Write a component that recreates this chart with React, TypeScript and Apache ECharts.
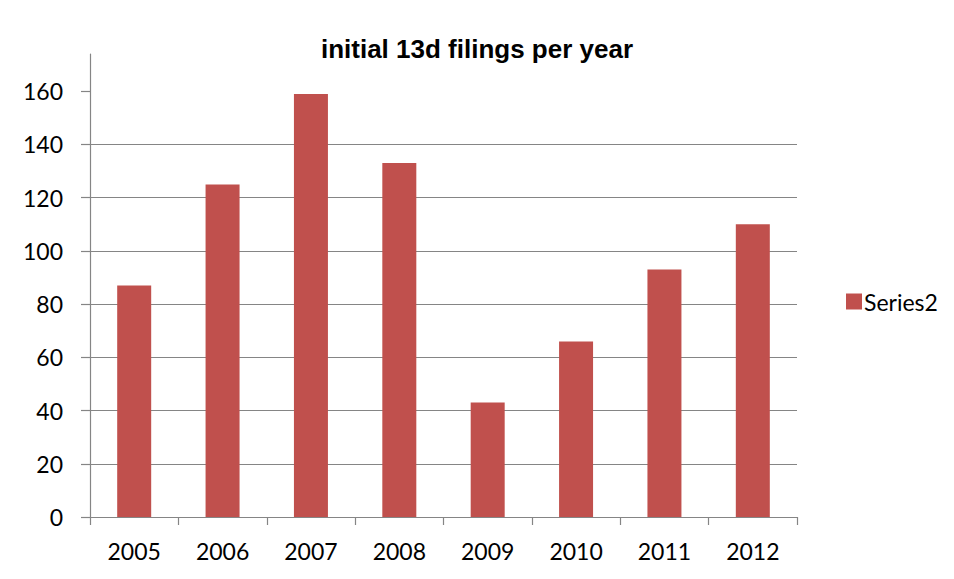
import React, { useEffect, useRef } from "react";
import * as echarts from "echarts";

const categories = ["2005", "2006", "2007", "2008", "2009", "2010", "2011", "2012"];
const series2 = [87, 125, 159, 133, 43, 66, 93, 110];
const yTicks = [0, 20, 40, 60, 80, 100, 120, 140, 160];
const chartTitle = "initial 13d filings per year";
const seriesName = "Series2";

export default function App() {
  const ref = useRef<HTMLDivElement>(null);
  useEffect(() => {
    if (!ref.current) return;
    const chart = echarts.init(ref.current, null, { renderer: "svg" });
    const grey = "#858585";
    const labelFont = "Lato, 'Open Sans', sans-serif";
    chart.setOption({
      animation: false,
      backgroundColor: "#ffffff",
      title: {
        text: chartTitle,
        left: "center",
        top: 31,
        textStyle: {
          fontFamily: "'Liberation Sans', Arial, sans-serif",
          fontWeight: "bold",
          fontSize: 26,
          color: "#000000",
        },
      },
      legend: {
        data: [seriesName],
        left: 841,
        top: 285,
        itemWidth: 16,
        itemHeight: 16,
        icon: "rect",
        textStyle: { fontFamily: labelFont, fontSize: 23, color: "#000000", padding: [0, 0, 0, -3] },
      },
      grid: { left: 90, right: 157, top: 54, bottom: 62, containLabel: false },
      xAxis: {
        type: "category",
        data: categories,
        boundaryGap: true,
        axisLine: { show: true, lineStyle: { color: grey, width: 1.2 } },
        axisTick: { show: true, length: 8, alignWithLabel: false, lineStyle: { color: grey, width: 1.2 } },
        axisLabel: { fontFamily: labelFont, fontSize: 23, color: "#000000", margin: 22 },
        splitLine: { show: false },
      },
      yAxis: {
        type: "value",
        min: 0,
        max: 174,
        interval: 20,
        axisLine: { show: true, lineStyle: { color: grey, width: 1.2 } },
        axisTick: { show: true, length: 9, customValues: yTicks, lineStyle: { color: grey, width: 1.2 } },
        axisLabel: { fontFamily: labelFont, fontSize: 23, color: "#000000", margin: 27, customValues: yTicks },
        splitLine: { show: true, showMaxLine: false, lineStyle: { color: grey, width: 1.2 } },
      },
      series: [
        {
          name: seriesName,
          type: "bar",
          data: series2,
          barWidth: 34,
          itemStyle: { color: "#C0504D" },
        },
      ],
    });
    return () => chart.dispose();
  }, []);
  return (
    <div
      ref={ref}
      style={{ position: "fixed", left: 0, top: 0, width: 954, height: 579, background: "#fff" }}
    />
  );
}
